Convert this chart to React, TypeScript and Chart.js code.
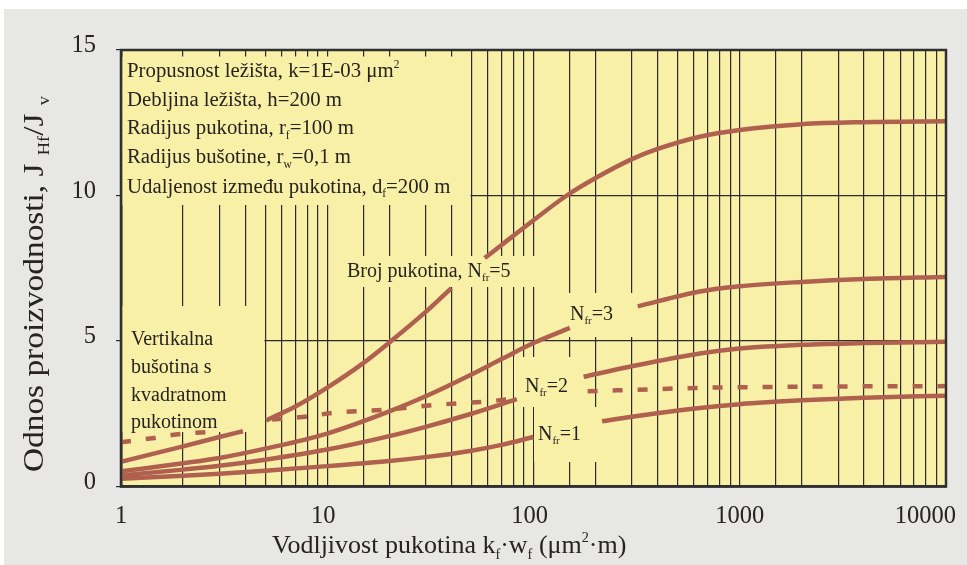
import React, { useEffect, useRef } from 'react';
import { Chart, registerables } from 'chart.js';

Chart.register(...registerables);

// ---- data ----
const nfr5X = [1, 2, 3, 3.9, 4.5, 5.05, 7, 10, 15, 20, 30, 40, 50, 58, 70, 100, 145, 200, 300, 400, 640, 1000, 2000, 4000, 10000];
const nfr5Y = [0.85, 1.38, 1.7, 1.9, null, 2.27, 2.75, 3.4, 4.25, 4.95, 6.0, 6.82, null, 7.85, 8.3, 9.15, 10.0, 10.6, 11.25, 11.6, 12.02, 12.25, 12.45, 12.52, 12.55];

const nfr3X = [1, 2, 3, 5, 10, 20, 30, 50, 70, 100, 150, 220, 320, 640, 1000, 2000, 4000, 10000];
const nfr3Y = [0.52, 0.8, 0.98, 1.3, 1.82, 2.58, 3.1, 3.85, 4.38, 4.93, 5.45, null, 6.19, 6.7, 6.88, 7.03, 7.13, 7.2];

const nfr2X = [1, 2, 3, 5, 10, 20, 30, 50, 83, 120, 175, 300, 640, 1000, 2000, 4000, 10000];
const nfr2Y = [0.38, 0.58, 0.71, 0.92, 1.27, 1.73, 2.05, 2.5, 3.0, null, 3.77, 4.13, 4.57, 4.74, 4.87, 4.93, 4.97];

const nfr1X = [1, 2, 3, 5, 10, 20, 30, 50, 70, 100, 150, 215, 300, 640, 1000, 2000, 4000, 10000];
const nfr1Y = [0.27, 0.37, 0.44, 0.54, 0.7, 0.88, 1.01, 1.23, 1.43, 1.7, null, 2.24, 2.4, 2.7, 2.83, 2.96, 3.05, 3.12];

const vertX = [1, 1.45, 1.85, 2.6, 4, 5.4, 8, 10.7, 19.4, 34.5, 61.6, 80, 130, 183, 300, 640, 2000, 10000];
const vertY = [1.52, 1.67, 1.79, 1.87, null, 2.3, 2.41, 2.53, 2.64, 2.81, 2.93, 3.02, null, 3.27, 3.32, 3.39, 3.43, 3.45];

const xTickValues = [1, 10, 100, 1000, 10000];
const yMin = 0;
const yMax = 15;
const yStep = 5;

type Part = [string, string];
const legendLines: Part[][] = [
  [['Propusnost ležišta, k=1E-03 μm', ''], ['2', 'sup']],
  [['Debljina ležišta, h=200 m', '']],
  [['Radijus pukotina, r', ''], ['f', 'sub'], ['=100 m', '']],
  [['Radijus bušotine, r', ''], ['w', 'sub'], ['=0,1 m', '']],
  [['Udaljenost između pukotina, d', ''], ['f', 'sub'], ['=200 m', '']],
];
const verticalNote = ['Vertikalna', 'bušotina s', 'kvadratnom', 'pukotinom'];
const label5: Part[] = [['Broj pukotina, N', ''], ['fr', 'sub'], ['=5', '']];
const label3: Part[] = [['N', ''], ['fr', 'sub'], ['=3', '']];
const label2: Part[] = [['N', ''], ['fr', 'sub'], ['=2', '']];
const label1: Part[] = [['N', ''], ['fr', 'sub'], ['=1', '']];
const xTitle: Part[] = [['Vodljivost pukotina k', ''], ['f', 'sub'], ['·w', ''], ['f', 'sub'], [' (μm', ''], ['2', 'sup'], ['·m)', '']];
const yTitle: Part[] = [['Odnos proizvodnosti, J ', ''], ['Hf', 'sub'], ['/J ', ''], ['v', 'sub']];

const CURVE = '#b0604e';
const YELLOW = '#f9f0a8';
const GRAY = '#e7e7e5';
const INK = '#262320';
const GRID = '#2b2b2b';
const SERIF = '"Liberation Serif", "Times New Roman", serif';

function toPoints(xs: number[], ys: (number | null)[]) {
  return xs.map((x, i) => ({ x, y: ys[i] }));
}

function drawRich(ctx: CanvasRenderingContext2D, parts: Part[], x: number, y: number, size: number) {
  let cx = x;
  for (const [t, k] of parts) {
    const s = k ? size * 0.55 : size;
    const dy = k === 'sub' ? size * 0.22 : k === 'sup' ? -size * 0.42 : 0;
    ctx.font = `${s}px ${SERIF}`;
    ctx.fillText(t, cx, y + dy);
    cx += ctx.measureText(t).width;
  }
  return cx;
}

const decoPlugin = {
  id: 'deco',
  beforeDraw(chart: any) {
    const ctx = chart.ctx as CanvasRenderingContext2D;
    const a = chart.chartArea;
    ctx.save();
    ctx.fillStyle = '#ffffff';
    ctx.fillRect(0, 0, chart.width, chart.height);
    ctx.fillStyle = GRAY;
    ctx.fillRect(4, 9, chart.width - 4, chart.height - 9);
    ctx.fillStyle = YELLOW;
    ctx.fillRect(a.left, a.top, a.right - a.left, a.bottom - a.top);
    ctx.restore();
  },
  beforeDatasetsDraw(chart: any) {
    const ctx = chart.ctx as CanvasRenderingContext2D;
    const a = chart.chartArea;
    const L = a.left + 1.3;
    ctx.save();
    ctx.fillStyle = YELLOW;
    // parameter box
    ctx.fillRect(L, 56.5, 470.5 - L, 205 - 56.5);
    // vertical well note
    ctx.fillRect(L, 306, 264.4 - L, 432 - 306);
    // curve labels
    ctx.fillRect(343, 256, 545 - 343, 287 - 256);
    ctx.fillRect(568, 293, 636 - 568, 337 - 293);
    ctx.fillRect(514, 357, 585 - 514, 407 - 357);
    ctx.fillRect(534, 407, 601 - 534, 462 - 407);
    ctx.restore();
  },
  afterDatasetsDraw(chart: any) {
    const ctx = chart.ctx as CanvasRenderingContext2D;
    const a = chart.chartArea;
    ctx.save();
    ctx.strokeStyle = '#303030';
    ctx.lineWidth = 2.5;
    ctx.strokeRect(a.left, a.top, a.right - a.left, a.bottom - a.top);

    ctx.fillStyle = INK;
    ctx.textAlign = 'left';
    ctx.textBaseline = 'alphabetic';
    const base = [77, 105.5, 134, 163, 192.5];
    legendLines.forEach((ln, i) => drawRich(ctx, ln, 127, base[i], 20.8));
    const vb = [345, 373, 400.5, 428];
    verticalNote.forEach((t, i) => drawRich(ctx, [[t, '']], 131, vb[i], 20));
    drawRich(ctx, label5, 347, 277, 20);
    drawRich(ctx, label3, 570, 320, 20);
    drawRich(ctx, label2, 525, 391.5, 20);
    drawRich(ctx, label1, 538, 440, 20);
    ctx.restore();
  },
  afterDraw(chart: any) {
    const ctx = chart.ctx as CanvasRenderingContext2D;
    const xs = chart.scales.x;
    ctx.save();
    ctx.fillStyle = INK;
    ctx.font = `24.5px ${SERIF}`;
    ctx.textAlign = 'center';
    ctx.textBaseline = 'alphabetic';
    for (const v of xTickValues) {
      const px = xs.getPixelForValue(v);
      const w = ctx.measureText(String(v)).width;
      const cx = Math.min(px - (v > 1 && v < 1000 ? 4 : 0), 956 - w / 2);
      ctx.fillText(String(v), cx, 523);
    }
    ctx.textAlign = 'left';
    drawRich(ctx, xTitle, 272, 553, 26);
    ctx.translate(43, 472);
    ctx.rotate(-Math.PI / 2);
    ctx.scale(1.15, 1);
    drawRich(ctx, yTitle, 0, 0, 29);
    ctx.restore();
  },
};

export default function App() {
  const ref = useRef<HTMLCanvasElement | null>(null);
  useEffect(() => {
    if (!ref.current) return;
    const common = { borderColor: CURVE, borderWidth: 4.5, pointRadius: 0, fill: false, spanGaps: false, cubicInterpolationMode: 'monotone' as const, borderCapStyle: 'butt' as const };
    const chart = new Chart(ref.current, {
      type: 'line',
      data: {
        datasets: [
          { ...common, label: 'Nfr=5', data: toPoints(nfr5X, nfr5Y) },
          { ...common, label: 'Nfr=3', data: toPoints(nfr3X, nfr3Y) },
          { ...common, label: 'Nfr=2', data: toPoints(nfr2X, nfr2Y) },
          { ...common, label: 'Nfr=1', data: toPoints(nfr1X, nfr1Y) },
          { ...common, label: 'Vertikalna bušotina', data: toPoints(vertX, vertY), borderDash: [10, 15] },
        ] as any,
      },
      options: {
        animation: false,
        responsive: false,
        maintainAspectRatio: false,
        devicePixelRatio: 1,
        events: [],
        layout: { padding: { left: 0, top: 50, right: 21, bottom: 0 } },
        plugins: { legend: { display: false }, tooltip: { enabled: false } },
        scales: {
          x: {
            type: 'logarithmic',
            min: 1,
            max: 10000,
            grid: { color: GRID, lineWidth: 1.2, drawTicks: false },
            border: { display: true, color: '#303030', width: 2.5 },
            ticks: { display: false, autoSkip: false },
            afterFit: (s: any) => { s.height = 565 - 486.5; },
          },
          y: {
            type: 'linear',
            min: yMin,
            max: yMax,
            grid: { color: GRID, lineWidth: 1.2, drawTicks: true, tickLength: 5 },
            border: { display: true, color: '#303030', width: 2.5 },
            ticks: { stepSize: yStep, color: INK, padding: 20, labelOffset: -4, font: { family: SERIF, size: 24.5 } },
            afterFit: (s: any) => { s.width = 121; },
          },
        },
      } as any,
      plugins: [decoPlugin],
    });
    return () => chart.destroy();
  }, []);
  return (
    <div style={{ position: 'absolute', left: 0, top: 0, width: 967, height: 565 }}>
      <canvas ref={ref} width={967} height={565} style={{ display: 'block', width: 967, height: 565 }} />
    </div>
  );
}
